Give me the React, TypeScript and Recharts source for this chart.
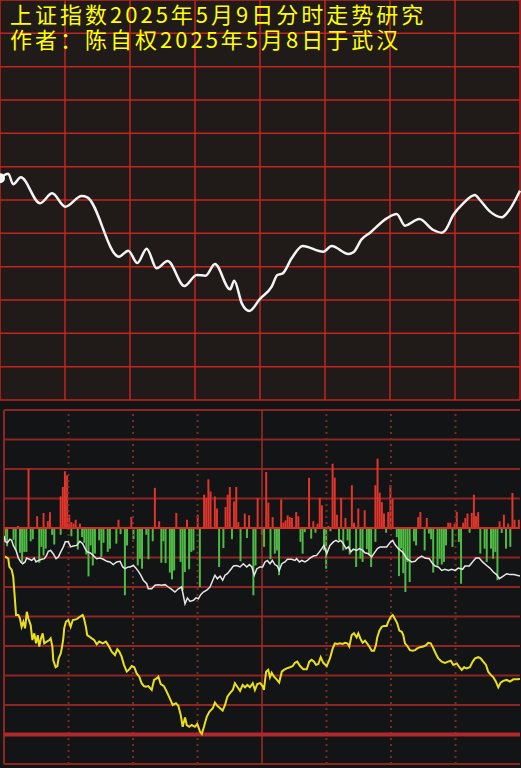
import { LineChart, Line, ComposedChart, Bar, XAxis, YAxis, CartesianGrid, ReferenceLine } from 'recharts'

// top panel: index minute line (minutes after 9:30, 240 trading minutes)
const topMinutes = [0, 3.8, 6.1, 9.6, 18.5, 24.1, 30.1, 37.7, 40.3, 54.9, 59.2, 63.4, 67.7, 72.3, 77.4, 85.1, 90.8, 94.9, 99.2, 106.2, 108.1, 111.6, 115.1, 120, 125.4, 128, 130.5, 134.6, 139.7, 149.2, 153.1, 160.8, 163.1, 166.9, 170.8, 178.5, 183.1, 186.9, 193.5, 200, 203.9, 205.4, 209.2, 213.8, 219.2, 221.5, 226.2, 231.6, 233.9, 240]
const topValues = [3346.6, 3347.16, 3345.88, 3346.72, 3343.6, 3344.8, 3343.2, 3344.48, 3344.32, 3337.2, 3337.92, 3336.44, 3338.16, 3335.8, 3336.68, 3333.68, 3335.0, 3334.92, 3336.32, 3333.28, 3334.32, 3331.6, 3330.68, 3332.14, 3333.6, 3335.0, 3335.2, 3337.0, 3338.48, 3337.8, 3338.48, 3337.52, 3337.72, 3339.28, 3340.08, 3341.8, 3342.32, 3340.92, 3341.72, 3340.4, 3340.08, 3340.32, 3342.2, 3343.6, 3344.6, 3344.0, 3342.6, 3341.92, 3342.4, 3345.12]
const timeTicks = [0, 30, 60, 90, 120, 150, 180, 210, 240]
const priceTicks = [3320, 3324, 3328, 3332, 3336, 3340, 3344, 3348, 3352, 3356, 3360, 3364, 3368]

// bottom panel: buy / sell bars
const redMinutes = [6, 11, 15, 18, 20, 21, 26, 27, 28, 29, 30, 31, 32, 33, 35, 53, 59, 70, 72, 80, 85, 90, 93, 94, 95, 96, 98, 99, 103, 104, 105, 107, 108, 109, 112, 114, 118, 122, 123, 125, 129, 130, 131, 132, 133, 134, 136, 137, 142, 144, 146, 147, 148, 151, 153, 154, 155, 157, 159, 162, 163, 165, 168, 173, 174, 175, 176, 177, 179, 180, 181, 193, 194, 197, 207, 208, 210, 211, 214, 215, 216, 218, 219, 220, 221, 231, 233, 235, 237, 238, 240]
const redValues = [7, 201, 40, 51, 23, 54, 107, 139, 192, 179, 45, 20, 15, 28, 15, 28, 37, 136, 23, 51, 28, 45, 113, 102, 165, 124, 107, 66, 71, 113, 139, 90, 139, 20, 49, 43, 102, 190, 86, 37, 97, 18, 26, 43, 37, 34, 54, 40, 170, 23, 15, 102, 77, 7, 218, 171, 45, 102, 34, 145, 18, 66, 60, 145, 235, 120, 88, 49, 54, 145, 99, 37, 54, 34, 18, 18, 15, 54, 18, 34, 49, 51, 113, 40, 54, 23, 45, 15, 119, 28, 28]
const greenMinutes = [0, 1, 4, 5, 7, 8, 9, 10, 12, 13, 16, 17, 18, 19, 22, 23, 26, 31, 34, 36, 37, 38, 39, 40, 41, 42, 44, 45, 46, 48, 49, 52, 54, 56, 57, 60, 62, 63, 64, 66, 67, 69, 73, 74, 75, 77, 78, 79, 82, 83, 84, 86, 87, 88, 91, 100, 102, 106, 110, 113, 116, 117, 120, 121, 124, 126, 127, 128, 138, 139, 140, 143, 145, 149, 150, 152, 156, 158, 160, 161, 164, 166, 167, 169, 170, 171, 173, 178, 183, 184, 185, 186, 187, 188, 189, 191, 192, 196, 198, 199, 200, 202, 203, 204, 205, 206, 209, 212, 213, 217, 222, 224, 225, 227, 228, 229, 230, 232, 234, 236]
const greenValues = [-47, -62, -40, -76, -84, -115, -81, -81, -45, -38, -118, -64, -93, -70, -23, -56, -23, -28, -73, -31, -50, -90, -164, -59, -127, -87, -42, -98, -50, -81, -70, -53, -21, -228, -59, -38, -127, -104, -138, -23, -106, -45, -118, -45, -119, -151, -174, -144, -115, -211, -149, -140, -81, -76, -200, -132, -68, -38, -113, -34, -228, -127, -23, -64, -106, -87, -76, -160, -47, -87, -14, -36, -16, -76, -138, -11, -42, -76, -42, -90, -132, -104, -115, -72, -93, -132, -47, -16, -31, -163, -70, -153, -217, -115, -183, -45, -59, -76, -19, -38, -151, -127, -104, -124, -115, -59, -64, -47, -189, -16, -87, -70, -115, -70, -104, -81, -177, -17, -70, -64]

// bottom panel: white line
const whiteMinutes = [0, 0.5, 1.5, 2.8, 3.6, 4.3, 5.6, 6.7, 7.8, 8.7, 9.8, 10.5, 11.8, 12.9, 14, 14.9, 16, 17.5, 18.8, 19.8, 20.6, 21.7, 22.9, 24.2, 25.3, 26.4, 27.6, 28.5, 29.9, 31, 32.2, 33.8, 35.3, 36.6, 37.7, 38.7, 40, 41.5, 43.1, 44.7, 46.2, 47.8, 49.3, 50.8, 52.4, 54, 55.2, 56.3, 57.8, 58.6, 60.2, 61.4, 62.5, 63.6, 64.8, 66.4, 67.1, 68.7, 70.2, 71.8, 73.3, 74.9, 76.4, 78, 79.5, 81.1, 82.6, 83.4, 84.2, 85.3, 86.5, 88.1, 89.3, 90.4, 91.5, 92.7, 94.3, 95.8, 97.1, 98.1, 99.2, 100.5, 101.7, 102.8, 103.9, 105.1, 106.7, 108.2, 109.8, 111.3, 112.9, 114.1, 115.3, 116.4, 117.6, 119.1, 120.3, 121.4, 122.5, 123.7, 124.8, 126, 127.1, 128, 129.2, 130.7, 131.8, 133.8, 135.3, 136.1, 137.4, 138.5, 140, 141.1, 142.3, 143.9, 145.4, 146.7, 147.8, 148.8, 150.1, 151.6, 153.2, 154.4, 155.5, 156.6, 157.8, 159.1, 160.2, 161.3, 162.5, 164, 165.3, 166.8, 167.9, 169.5, 171, 172.6, 173.7, 174.9, 176.4, 178, 179.5, 180.8, 181.9, 183.4, 185, 186, 187.3, 188.5, 189.6, 191.2, 192.7, 194.3, 195.8, 197.8, 199.4, 200.5, 202, 203.6, 205.1, 206.7, 208.2, 209.8, 211.3, 213.3, 214.4, 216.4, 217.9, 219.5, 221, 222.6, 224.5, 226, 227.6, 229.1, 230.4, 232.2, 233.8, 235.3, 237.2, 240]
const whiteValues = [-27, -45, -50, -38, -42, -59, -76, -102, -115, -121, -115, -102, -106, -110, -102, -115, -110, -106, -104, -93, -79, -76, -87, -104, -98, -81, -64, -47, -47, -64, -61, -59, -45, -53, -70, -81, -84, -93, -104, -102, -106, -113, -115, -124, -115, -113, -132, -138, -132, -132, -127, -136, -147, -160, -177, -189, -206, -206, -194, -192, -194, -192, -200, -208, -217, -206, -200, -228, -257, -237, -249, -245, -237, -240, -226, -217, -211, -200, -177, -160, -172, -163, -177, -160, -155, -144, -129, -127, -132, -121, -132, -124, -132, -160, -138, -132, -132, -115, -110, -121, -110, -124, -129, -144, -121, -115, -106, -106, -110, -104, -115, -110, -115, -110, -102, -95, -93, -81, -70, -59, -87, -59, -47, -42, -47, -42, -53, -70, -64, -81, -72, -76, -70, -76, -84, -87, -98, -81, -70, -64, -64, -64, -50, -42, -57, -70, -79, -87, -104, -110, -115, -113, -102, -95, -102, -104, -121, -129, -132, -144, -140, -144, -140, -144, -136, -140, -129, -129, -115, -102, -102, -115, -127, -136, -149, -158, -172, -163, -155, -158, -158, -163]

// bottom panel: yellow line
const yellowMinutes = [0.5, 2, 2.5, 3.6, 4.3, 5.1, 5.6, 6.7, 7.4, 8.2, 9, 9.8, 10.6, 11.3, 12.4, 13.2, 14.1, 14.9, 15.7, 16.4, 17.2, 18, 18.7, 19.9, 21.1, 21.7, 22.5, 22.9, 24, 24.8, 25.4, 26.4, 27, 27.6, 28, 28.8, 29.9, 31, 32, 33.8, 35.3, 36.6, 37.2, 38.1, 38.7, 39.7, 40.8, 42, 43.1, 44.3, 45.9, 47.4, 48.5, 50.1, 51.6, 52.7, 53.6, 54.7, 55.8, 57.1, 58.3, 59.4, 60.6, 61.7, 62.9, 64, 65.1, 66, 67.1, 68.7, 69.8, 71, 71.8, 72.9, 74.4, 75.7, 76.9, 78.5, 80, 81.1, 82.2, 83.1, 84.2, 85, 86.2, 87.3, 88.8, 89.9, 91.2, 92, 93, 94.3, 95.5, 97.1, 98.1, 99.2, 100.5, 101.7, 102.8, 103.9, 105.1, 106.4, 107.4, 108.5, 109.8, 111, 112.1, 113.2, 114.4, 115.7, 116.7, 117.8, 119.1, 120.3, 120.9, 121.9, 122.9, 123.7, 124.5, 125.6, 126.8, 128, 129.2, 130.2, 131.5, 133, 134.3, 135.3, 136.4, 137.7, 139.2, 140.8, 142, 143.1, 144.2, 145.1, 146.2, 147.3, 148.5, 150.1, 151.6, 152.9, 153.9, 155, 156.3, 157.5, 158.6, 159.7, 160.6, 161.7, 162.8, 164, 164.8, 165.9, 166.8, 167.9, 168.7, 169.9, 171, 172.1, 173, 173.6, 174.6, 175.7, 176.7, 178, 178.7, 179.9, 180.8, 181.9, 182.9, 183.9, 185, 185.7, 186.5, 187.6, 188.8, 190.1, 191.2, 192.2, 193.5, 195, 196.3, 197.3, 198.5, 199.7, 200.9, 202, 203.6, 205.1, 206.6, 207.8, 209, 210.6, 211.8, 212.9, 214, 215.2, 216.7, 218, 219.1, 220.6, 221.7, 222.9, 224.2, 225.2, 226.4, 227.6, 228.8, 229.9, 231, 232.2, 233.8, 235.3, 236.9, 238.4, 240]
const yellowValues = [-96, -104, -132, -142, -166, -244, -295, -295, -306, -335, -318, -340, -284, -306, -329, -380, -357, -391, -363, -402, -374, -357, -391, -385, -380, -374, -402, -448, -472, -468, -442, -425, -402, -374, -340, -318, -312, -335, -312, -309, -301, -295, -306, -335, -363, -368, -374, -380, -394, -385, -391, -385, -397, -419, -431, -411, -419, -436, -464, -487, -479, -468, -472, -493, -504, -526, -536, -538, -536, -549, -515, -510, -504, -529, -536, -555, -574, -600, -594, -603, -634, -674, -642, -668, -674, -668, -674, -664, -691, -698, -674, -640, -623, -611, -592, -603, -611, -619, -600, -572, -560, -549, -526, -538, -552, -532, -540, -532, -540, -526, -549, -529, -526, -536, -549, -487, -481, -506, -491, -504, -513, -524, -487, -481, -476, -472, -468, -457, -453, -468, -479, -479, -453, -447, -453, -464, -461, -438, -457, -468, -442, -408, -391, -393, -391, -393, -389, -391, -402, -363, -357, -371, -357, -377, -389, -382, -389, -402, -416, -416, -397, -371, -348, -335, -332, -332, -318, -301, -295, -309, -323, -348, -352, -363, -391, -400, -414, -416, -414, -408, -404, -402, -397, -389, -391, -408, -427, -442, -453, -457, -453, -450, -464, -459, -472, -481, -472, -476, -472, -453, -442, -438, -442, -453, -464, -487, -498, -506, -521, -540, -524, -518, -515, -521, -513, -513, -512]
const flowTicks = [-800, -700, -600, -500, -400, -300, -200, -100, 0, 100, 200, 300, 400]
const halfHours = [30, 60, 90, 150, 180, 210]

const topData = topMinutes.map((m, i) => ({ m, v: topValues[i] }))
const whiteData = whiteMinutes.map((m, i) => ({ m, v: whiteValues[i] }))
const yellowData = yellowMinutes.map((m, i) => ({ m, v: yellowValues[i] }))

// one row per trading minute for the bars
const barData = Array.from({ length: 241 }, (_, m) => {
  const r = redMinutes.indexOf(m)
  const g = greenMinutes.indexOf(m)
  return { m, up: r >= 0 ? redValues[r] : 0, down: g >= 0 ? greenValues[g] : 0 }
})

const titleStyle = {
  fontFamily: '"Noto Sans CJK SC", sans-serif',
  fontSize: 22,
  letterSpacing: 3,
  color: '#ffff00',
  lineHeight: '25px',
  height: 25,
  whiteSpace: 'nowrap' as const,
}

export default function App() {
  return (
    <div style={{ position: 'absolute', left: 0, top: 0, width: 521, height: 768, background: '#131416', overflow: 'hidden' }}>
      <div style={{ position: 'absolute', left: 0, top: 0, width: 521, height: 400, background: '#201a19' }}>
        <LineChart width={521} height={401} data={topData} margin={{ top: 0, right: 1, bottom: 1, left: 0 }}>
          <CartesianGrid stroke="#c4241e" strokeWidth={1.5} />
          <XAxis dataKey="m" type="number" domain={[0, 240]} ticks={timeTicks} hide />
          <YAxis type="number" domain={[3320, 3368]} ticks={priceTicks} hide />
          <Line type="monotone" dataKey="v" stroke="#f4f4f4" strokeWidth={2.5} dot={false} isAnimationActive={false} />
        </LineChart>
      </div>
      <div style={{ position: 'absolute', left: 10, top: 1 }}>
        <div style={titleStyle}>上证指数2025年5月9日分时走势研究</div>
        <div style={titleStyle}>作者：陈自权2025年5月8日于武汉</div>
      </div>
      <div style={{ position: 'absolute', left: 0, top: 400 }}>
        <ComposedChart width={521} height={368} data={barData} stackOffset="sign" barCategoryGap={0} margin={{ top: 10, right: 1, bottom: 4, left: 4 }}>
          <CartesianGrid stroke="#8e2522" strokeWidth={2} vertical={false} />
          <XAxis dataKey="m" type="number" domain={[0, 240]} ticks={timeTicks} allowDataOverflow hide />
          <XAxis xAxisId="bars" dataKey="m" type="category" hide />
          <YAxis type="number" domain={[-800, 400]} ticks={flowTicks} allowDataOverflow hide />
          {halfHours.map((h) => (
            <ReferenceLine key={h} x={h} stroke="#7a2a28" strokeWidth={2} strokeDasharray="2 4" />
          ))}
          <ReferenceLine x={120} stroke="#a02a26" strokeWidth={1.5} />
          <ReferenceLine x={0} stroke="#8e2522" strokeWidth={2} />
          <ReferenceLine y={-700} stroke="#b0282a" strokeWidth={4} />
          <Bar xAxisId="bars" dataKey="up" stackId="flow" fill="#e0352b" barSize={2} isAnimationActive={false} />
          <Bar xAxisId="bars" dataKey="down" stackId="flow" fill="#4dbb44" barSize={2} isAnimationActive={false} />
          <ReferenceLine y={0} stroke="#d42e26" strokeWidth={2} />
          <Line data={whiteData} type="linear" dataKey="v" stroke="#e6e6e6" strokeWidth={1.5} dot={false} isAnimationActive={false} />
          <Line data={yellowData} type="linear" dataKey="v" stroke="#e8e01c" strokeWidth={2} dot={false} isAnimationActive={false} />
        </ComposedChart>
      </div>
    </div>
  )
}
